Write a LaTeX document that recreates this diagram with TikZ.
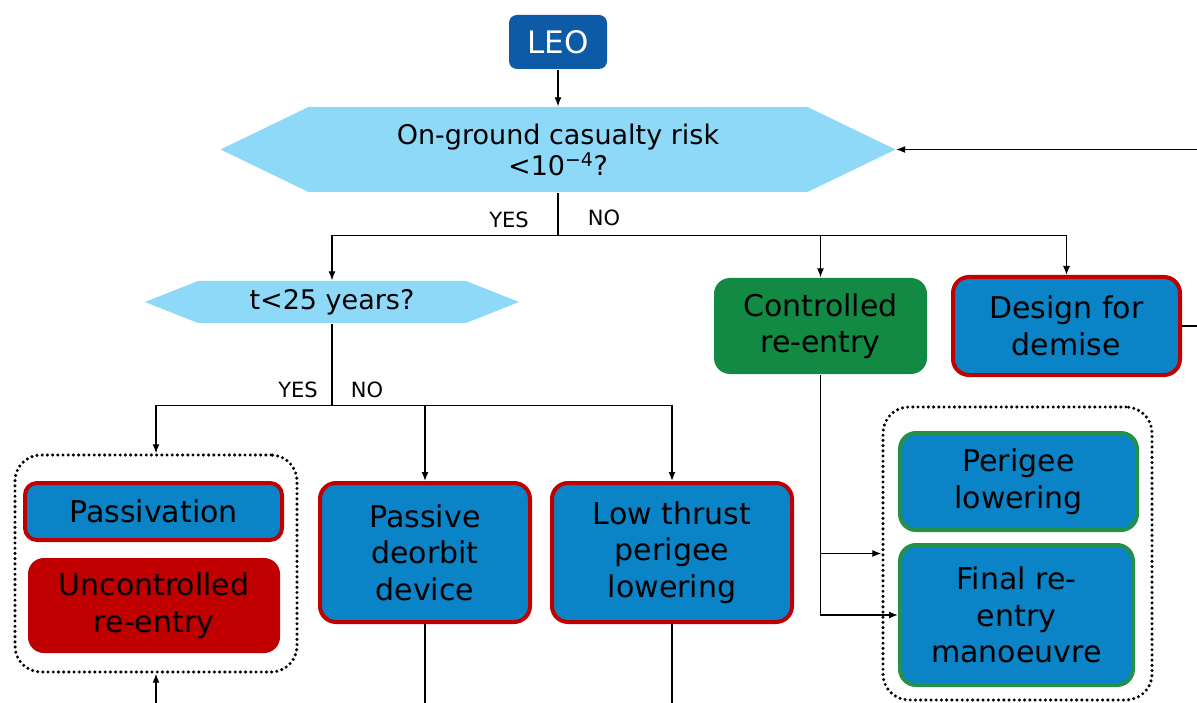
\documentclass[tikz,border=0pt]{standalone}
\usepackage{fontspec}
\setmainfont{DejaVu Sans}
\usepackage{xcolor}
\usetikzlibrary{arrows.meta,positioning,calc}
\definecolor{hexblue}{HTML}{8ED8F8}
\definecolor{leoblue}{HTML}{0D5AA7}
\definecolor{boxblue}{HTML}{0A84C6}
\definecolor{boxred}{HTML}{C00000}
\definecolor{boxgreen}{HTML}{138A43}
\definecolor{edgegreen}{HTML}{23914A}

\begin{document}
\begin{tikzpicture}[x=1pt,y=-1pt,>={Latex[length=9pt,width=7pt]},line width=1.3pt,
  box/.style={rounded corners=16pt,align=center,inner sep=0pt,font=\fontsize{30}{36.5}\selectfont},
  redbox/.style={box,fill=boxblue,draw=boxred,line width=4pt},
  greenbox/.style={box,fill=boxblue,draw=edgegreen,line width=4pt},
  decision/.style={inner sep=0pt,align=center,font=\fontsize{27}{31}\selectfont,
    path picture={\fill[hexblue] (path picture bounding box.west)
      -- ([xshift=#1]path picture bounding box.north west)
      -- ([xshift=-#1]path picture bounding box.north east)
      -- (path picture bounding box.east)
      -- ([xshift=-#1]path picture bounding box.south east)
      -- ([xshift=#1]path picture bounding box.south west) -- cycle;}},
  group/.style={draw,line width=3.4pt,line cap=round,dash pattern=on 0pt off 5.2pt,
    rounded corners=26pt,inner sep=0pt},
  lbl/.style={font=\fontsize{21}{24}\selectfont}]
\useasboundingbox (0,0) rectangle (1197,703);
% top: start and first decision
\node[box,fill=leoblue,text=white,rounded corners=8pt,minimum width=98pt,minimum height=54pt,
  font=\fontsize{31}{36}\selectfont] (leo) at (558,42) {LEO};
\node[decision=88pt,minimum width=675pt,minimum height=85pt] (risk) at (558,149.5)
  {On-ground casualty risk\\<10\textsuperscript{−4}?};
\draw[->] (leo) -- (risk);
\coordinate (fb) at (1197,149.5);
\draw[->] (fb) -- (risk.east);
% second row
\node[box,fill=boxgreen,minimum width=213pt,minimum height=96pt] (ctrl) at (820.5,326)
  {Controlled\\re-entry};
\node[redbox,minimum width=227pt,minimum height=98pt] (demise) at (1066.5,326)
  {Design for\\demise};
\node[decision=53pt,minimum width=374pt,minimum height=42pt] (years) at (332,302)
  {t<25 years?};
\coordinate (split1) at ($(risk.south)+(0,43)$);
\draw (risk.south) -- (split1);
\draw[->] (split1) -| (years.north);
\draw[->] (split1) -| (ctrl.north);
\draw[->] (split1) -| (demise.north);
\node[lbl] (yes1) at (509,220) {YES};
\node[lbl] (no1) at (604,218) {NO};
\coordinate (demiseout) at (1197,326);
\draw (demise.east) -- (demiseout);
% left branch: t<25 years?
\node[group,minimum width=282pt,minimum height=217pt] (lgroup) at (156,563.5) {};
\node[redbox,rounded corners=12pt,minimum width=257pt,minimum height=57pt] (passiv) at (153.5,511.5)
  {Passivation};
\node[box,fill=boxred,minimum width=252pt,minimum height=95pt] (uncontr) at (154,605.5)
  {Uncontrolled\\re-entry};
\node[redbox,minimum width=210pt,minimum height=139pt] (passive) at (425,552.5)
  {Passive\\deorbit\\device};
\node[redbox,minimum width=240pt,minimum height=139pt] (lowthr) at (672,552.5)
  {Low thrust\\perigee\\lowering};
\coordinate (split2) at ($(years.south)+(0,82)$);
\draw (years.south) -- (split2);
\draw[->] (split2) -| (lgroup.north);
\draw[->] (split2) -| (passive.north);
\draw[->] (split2) -| (lowthr.north);
\node[lbl] (yes2) at (298,390) {YES};
\node[lbl] (no2) at (367,390) {NO};
\coordinate (passiveout) at (425,703);
\coordinate (lowthrout) at (672,703);
\coordinate (loopin) at (156,703);
\draw (passive.south) -- (passiveout);
\draw (lowthr.south) -- (lowthrout);
\draw[->] (loopin) -- (lgroup.south);
% right branch: controlled re-entry
\node[group,minimum width=269pt,minimum height=293pt] (rgroup) at (1017.5,553.5) {};
\node[greenbox,minimum width=237pt,minimum height=97pt] (perigee) at (1018.5,481.5)
  {Perigee\\lowering};
\node[greenbox,minimum width=233pt,minimum height=140pt] (final) at (1016.5,615)
  {Final re-\\entry\\manoeuvre};
\draw[->] (ctrl.south) |- (final.west);
\draw[->] (ctrl.south |- rgroup.west) -- (rgroup.west);
\end{tikzpicture}
\end{document}
